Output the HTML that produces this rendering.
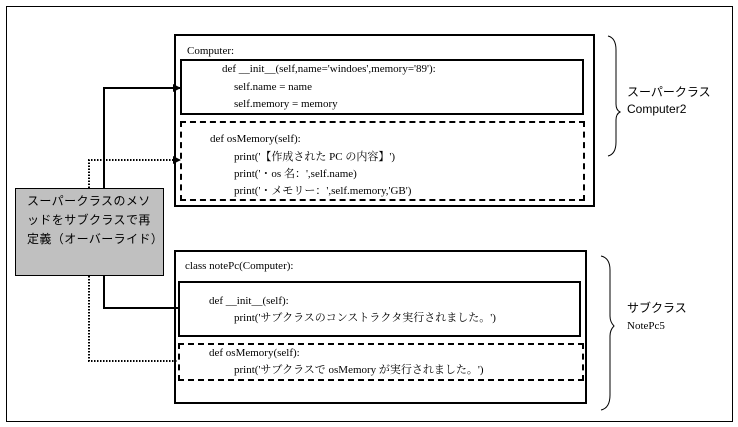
<!DOCTYPE html>
<html><head><meta charset="utf-8"><style>
body{margin:0;width:738px;height:427px;background:#fff;position:relative;overflow:hidden;font-family:"Liberation Serif","Noto Serif CJK SC","Noto Sans CJK JP",serif;font-size:11px;color:#000}
.a{position:absolute;box-sizing:border-box}
.t{position:absolute;white-space:nowrap;line-height:13px}
.j{font-family:"Liberation Sans","Noto Sans CJK JP",sans-serif}
</style></head><body>
<div class="a" style="left:6px;top:6px;width:727px;height:416px;border:1px solid #000"></div>
<div class="a" style="left:174px;top:34px;width:421px;height:173px;border:2px solid #000"></div>
<div class="a" style="left:180px;top:59px;width:404px;height:56px;border:2px solid #000"></div>
<div class="a" style="left:180px;top:121px;width:405px;height:80px;border:2px dashed #000"></div>
<div class="a" style="left:174px;top:250px;width:413px;height:154px;border:2px solid #000"></div>
<div class="a" style="left:178px;top:281px;width:403px;height:56px;border:2px solid #000"></div>
<div class="a" style="left:178px;top:343px;width:406px;height:38px;border:2px dashed #000"></div>
<div class="a j" style="left:15px;top:188px;width:149px;height:88px;background:#c0c0c0;border:1px solid #000;font-size:12px;line-height:19px;padding:3px 0 0 11px;white-space:nowrap;letter-spacing:0.4px">スーパークラスのメソ<br>ッドをサブクラスで再<br>定義（オーバーライド）</div>
<svg class="a" style="left:0;top:0" width="738" height="427">
<defs><marker id="m" markerWidth="8" markerHeight="8" refX="7" refY="4" orient="auto" markerUnits="userSpaceOnUse"><path d="M0,0L8,4L0,8z"/></marker></defs>
<path d="M104,188V88H180" fill="none" stroke="#000" stroke-width="2" marker-end="url(#m)"/>
<path d="M89,188V160H180" fill="none" stroke="#000" stroke-width="2" stroke-dasharray="1.5,1.5" marker-end="url(#m)"/>
<path d="M104,276V308H178" fill="none" stroke="#000" stroke-width="2"/>
<path d="M89,276V361H178" fill="none" stroke="#000" stroke-width="2" stroke-dasharray="1.5,1.5"/>
<path d="M608,36Q616,38 616,50V104Q616,110 620,112Q616,114 616,120V142Q616,154 608,156" fill="none" stroke="#000" stroke-width="1"/>
<path d="M601,256Q610,258 610,270V316Q610,322 614,326Q610,330 610,336V395Q610,408 601,410" fill="none" stroke="#000" stroke-width="1"/>
</svg>
<div class="t" style="left:187px;top:45px">Computer:</div>
<div class="t" style="left:222px;top:63px">def __init__(self,name='windoes',memory='89'):</div>
<div class="t" style="left:234px;top:81px">self.name = name</div>
<div class="t" style="left:234px;top:98px">self.memory = memory</div>
<div class="t" style="left:210px;top:133px">def osMemory(self):</div>
<div class="t" style="left:234px;top:151px">print('【作成された PC の内容】')</div>
<div class="t" style="left:234px;top:168px">print('・os 名：',self.name)</div>
<div class="t" style="left:234px;top:185px">print('・メモリー：',self.memory,'GB')</div>
<div class="t j" style="left:627px;top:86px;font-size:12px">スーパークラス</div>
<div class="t j" style="left:627px;top:103px;font-size:12px">Computer2</div>
<div class="t" style="left:185px;top:260px">class notePc(Computer):</div>
<div class="t" style="left:209px;top:295px">def __init__(self):</div>
<div class="t" style="left:234px;top:312px">print('サブクラスのコンストラクタ実行されました。')</div>
<div class="t" style="left:209px;top:347px">def osMemory(self):</div>
<div class="t" style="left:234px;top:364px">print('サブクラスで osMemory が実行されました。')</div>
<div class="t j" style="left:627px;top:302px;font-size:12px">サブクラス</div>
<div class="t" style="left:627px;top:320px;height:9px;overflow:hidden">NotePc5</div>
</body></html>
